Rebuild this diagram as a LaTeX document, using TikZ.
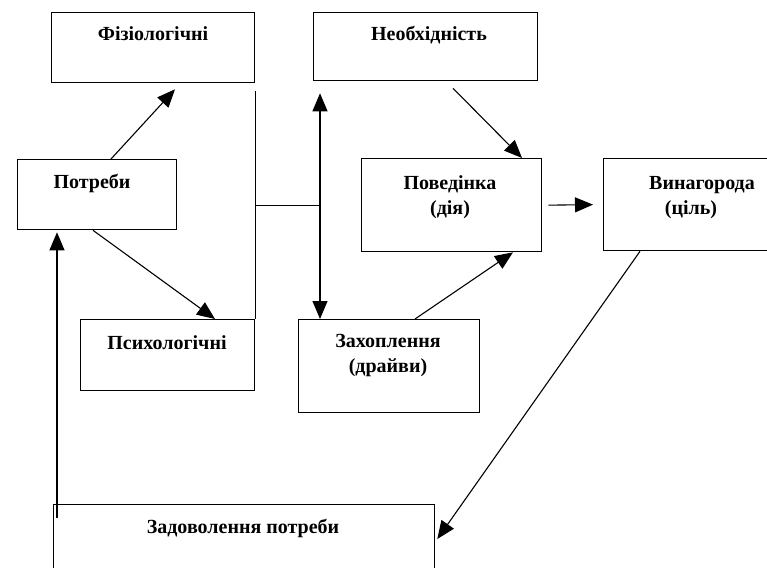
\documentclass[tikz,border=0pt]{standalone}
\usepackage{fontspec}
\setmainfont{Liberation Serif}
\usetikzlibrary{arrows.meta,calc}
\begin{document}
\begin{tikzpicture}[x=1pt,y=-1pt,
  box/.style={draw, line width=1.3pt, rectangle, inner sep=0pt, anchor=north west},
  lbl/.style={font=\bfseries\fontsize{20}{25}\selectfont, inner sep=0pt, align=center, anchor=base},
  conn/.style={line width=1.1pt},
  arr/.style={conn, -{Triangle[length=18pt,width=15pt]}},
  dblarr/.style={conn, {Triangle[length=18pt,width=15pt]}-{Triangle[length=18pt,width=15pt]}}
]
\useasboundingbox[fill=white] (0,0) rectangle (767,567);
\begin{scope}
\clip (0,0) rectangle (767,567);
% boxes
\node[box, minimum width=203pt, minimum height=70pt] (fiz) at (51,12) {};
\node[box, minimum width=224pt, minimum height=68pt] (neob) at (313,12) {};
\node[box, minimum width=159pt, minimum height=70pt] (potr) at (17,159) {};
\node[box, minimum width=180pt, minimum height=93pt] (pov) at (361,158) {};
\node[box, minimum width=170pt, minimum height=92pt] (vyn) at (603,158) {};
\node[box, minimum width=174pt, minimum height=71pt] (psyh) at (80,319) {};
\node[box, minimum width=181pt, minimum height=93pt] (zah) at (298,319) {};
\node[box, minimum width=381pt, minimum height=80pt] (zad) at (53,504) {};
\end{scope}
% texts (two-line texts: base anchor is the last line's baseline)
\node[lbl] (tfiz) at (153,40.5) {Фізіологічні};
\node[lbl] (tneob) at (429,40.5) {Необхідність};
\node[lbl] (tpotr) at (92,188.5) {Потреби};
\node[lbl] (tpov) at (450,214.5) {Поведінка\\(дія)};
\node[lbl] (tvyn) at (702,214.5) {Винагорода\\(ціль)\hspace*{22pt}};
\node[lbl] (tpsyh) at (167,349.5) {Психологічні};
\node[lbl] (tzah) at (388,372.5) {Захоплення\\(драйви)};
\node[lbl] (tzad) at (243,533.5) {Задоволення потреби};
% helper coordinates
\coordinate (ftop) at ([yshift=-8pt]fiz.south east);
\coordinate (j) at ([yshift=-122pt]fiz.south east);
\coordinate (dtop) at ([xshift=7pt,yshift=-12pt]neob.south west);
\coordinate (dbot) at ([xshift=22pt]zah.north west);
\coordinate (zstart) at ([xshift=4pt,yshift=-14pt]zad.north west);
% connectors
\draw[arr] ([xshift=94pt]potr.north west) -- ([xshift=124pt,yshift=-6pt]fiz.south west);
\draw[arr] ([xshift=76pt]potr.south west) -- ([xshift=135pt]psyh.north west);
\draw[conn] (ftop) -- (psyh.north east);
\draw[conn] (j) -- (j -| dtop);
\draw[dblarr] (dbot) -- (dtop);
\draw[arr] ([xshift=140pt,yshift=-7pt]neob.south west) -- ([xshift=161pt]pov.north west);
\draw[arr] ([xshift=6pt]pov.east) -- ([xshift=-10pt]vyn.west);
\draw[arr] ([xshift=117pt]zah.north west) -- ([xshift=152pt]pov.south west);
\draw[arr] ([xshift=37pt]vyn.south west) -- ([xshift=2pt,yshift=-35pt]zad.north east);
\draw[arr] (zstart) -- ([xshift=40pt,yshift=-2pt]potr.south west);
\end{tikzpicture}
\end{document}
